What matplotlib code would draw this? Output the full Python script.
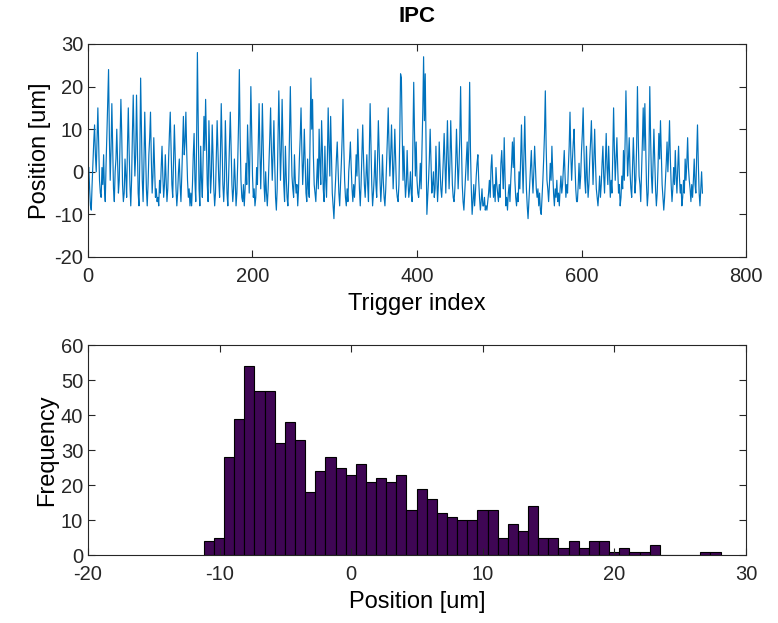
import numpy as np
import matplotlib
matplotlib.use('Agg')
import matplotlib.pyplot as plt

plt.rcParams['font.family'] = ['Liberation Sans', 'DejaVu Sans']
plt.rcParams['axes.unicode_minus'] = False

# position trace (um), one value per trigger
position = [
    1, -4, -8, -9, -3, 2, 7, 11, 4, 0, 8, 15, 6, -2, -5, -6, 1, -3, 4, -4, -7, 2, 9, 17, 24,
    8, -2, 5, 16, 6, -4, -7, 0, 3, 10, 2, -5, -2, 8, 17, 9, -3, -7, -5, 3, -1, -6, 6, 15, 5,
    -3, -8, -2, 9, 18, 7, -1, 4, 18, 6, -5, -8, 3, 22, 10, -2, -7, 2, 14, 5, -4, -8, -3, 4, 8,
    14, 3, -5, -1, 8, 1, -6, -4, -7, -6, -8, -2, -5, 1, 6, -1, -6, -3, 4, -2, -7, -4, 3, 9, 14,
    5, -3, -6, 2, 11, 4, -4, -8, -5, 0, 3, -3, -7, -1, 6, 13, 4, 7, 14, 5, -2, -6, -4, -8, -5,
    -8, -3, 4, 9, -2, -7, 6, 28, 12, -4, -8, 6, -2, -6, 3, 13, 5, 17, 7, -3, -7, 12, 3, -5, -1,
    11, 4, -4, -8, -5, 3, 12, 5, -2, -6, 4, 16, 6, -3, -7, -2, 12, 4, -5, -8, -1, 7, 14, 6, -3,
    -7, -4, 3, -2, -8, -5, 2, 11, 24, 8, -2, -6, -7, -3, -8, -4, 2, -3, 11, 4, -5, 6, 20, 9, -1,
    -6, -4, -8, -6, 1, -3, 7, 16, 5, -4, 4, 16, 6, -3, -7, 0, -5, -8, -4, 2, 8, 15, 5, -2, 4,
    12, 2, -6, -9, -4, 7, 19, 8, -2, 5, 17, 7, -3, -7, 6, -1, -6, -8, -2, 9, 20, 8, -1, -4, -6,
    4, -2, -5, -3, -8, -4, 3, 8, 15, 5, -3, 2, 10, 2, -5, -7, 3, -4, -6, 8, 22, 10, 17, 4, -3,
    -5, -7, -2, 3, -4, 10, 2, -3, 12, 5, -4, -7, 6, -2, -6, 3, 15, 6, -1, 13, 4, -5, -8, -11, -6,
    -2, 3, 7, 1, -5, -8, -3, 2, 8, 17, 6, -2, -6, -8, -4, -7, 0, 3, 7, 1, -4, -7, -3, -6, -2,
    4, -1, 10, 3, -4, -8, -3, 4, 11, 3, -3, -6, -1, 4, -3, -7, 5, 16, 6, -3, -8, -5, -1, 5, -3,
    -6, 3, 12, 5, -2, -7, -3, 4, -2, -6, -8, -4, 2, 8, 15, 6, -1, 4, 11, 3, -4, 2, 10, 3, -4, -6, -7,
    -3, 8, 23, 22, 9, -2, 6, -1, -6, -3, 5, -2, -6, -4, 0, -5, -7, 7, 21, 9, -1, 7, -2,
    -5, -6, -3, 2, -4, 5, 14, 27, 12, 23, 6, -10, -6, -2, 3, 10, 2, -5, -3, 0, -6, -4, 6, -1, -7,
    -3, 7, 1, -4, -6, -2, 3, 9, 2, -5, 4, 12, 3, -4, 2, 12, 4, -3, -6, -7, -4, 2, 10, 3, -4,
    1, 8, 20, 7, -3, -7, -9, -5, -1, 3, 7, -2, 6, 21, 5, -4, -10, -7, -3, -8, -5, -1, 2, 4, -2,
    -6, -9, -7, -4, -8, -8, -6, -9, -8, -9, -7, -5, -2, -6, 1, 4, -2, -6, -3, -7, 1, -3, -5, -7, -3, -6, 2, 5,
    0, -4, 8, -1, -8, -6, -9, -5, -3, -7, -2, 2, 7, 1, 8, -2, -6, -8, -5, -7, 0, -4, 3, 11, 2,
    -5, 4, 13, 3, -4, -8, -11, -7, -3, 1, 5, -1, -5, 0, 6, 1, -4, -6, -4, -8, -5, -9, -10, -6, -2,
    3, 9, 19, 6, -2, -4, -7, -3, 2, -2, 6, 0, -5, -8, -4, -6, -2, -7, -5, -8, -4, -1, -5, -3, 1,
    5, -1, -6, -3, -5, 1, 6, 14, 4, -2, 3, 7, 10, 2, -4, -7, -7, -3, 2, -4, -1, 5, 9, 15, 5,
    -2, -5, 6, -1, -6, -3, 3, 7, 12, 4, -3, 3, 10, 2, -4, -6, -8, -5, -1, -6, -3, 2, 6, -1, -5, 2, 9,
    1, -3, 6, 0, -6, -2, -5, 4, 15, 5, -2, 3, 8, 1, -5, -3, -8, -6, -1, -4, 5, -2, 7, 19, 9,
    -1, 3, 8, 0, -4, -6, 1, 8, 2, -5, -2, 6, 20, 8, -1, -3, -7, 0, 7, 15, 5, 16, 6, -3, -8,
    -5, 4, 20, 8, -1, -5, 2, 10, 3, -4, -8, -5, 1, 9, 3, 12, 4, -3, -6, -9, -6, -2, 2, 7, 0,
    5, 12, 3, -3, -7, -4, 1, -3, 5, -1, -5, 1, 6, -1, -5, -3, -8, -6, -2, -5, 3, -2, 2, 8, 1,
    -2, -4, -7, -3, -6, -2, 3, -3, -5, 4, 11, 2, -5, -8, -4, 0, -5,
]

# histogram of the same positions, counts
hist_counts = [
    4, 5, 28, 39, 54, 47, 47, 32, 38, 33, 18, 24, 28, 25, 23, 26, 21, 22, 21, 23,
    13, 19, 16, 12, 11, 10, 10, 13, 13, 5, 9, 7, 14, 5, 5, 2, 4, 2, 4, 4,
    1, 2, 1, 1, 3, 0, 0, 0, 0, 1, 1,
]
bin_start = -11.2
bin_width = 0.77

LINE_COLOR = '#0072BD'
BAR_COLOR = '#3f0654'
AX_COLOR = '#262626'


def style_axes(ax):
    ax.tick_params(direction='in', length=5, width=0.8, colors=AX_COLOR,
                   labelsize=14.5, top=True, right=True)
    ax.tick_params(axis='x', pad=7)
    for sp in ax.spines.values():
        sp.set_color(AX_COLOR)
        sp.set_linewidth(0.8)


fig = plt.figure(figsize=(7.78, 6.23), dpi=100)

# top panel: position vs trigger
ax1 = fig.add_axes([0.1131, 0.5875, 0.8458, 0.3419])
trig = np.arange(1, len(position) + 1)
ax1.plot(trig, position, color=LINE_COLOR, linewidth=0.85)
ax1.set_xlim(0, 800)
ax1.set_ylim(-20, 30)
ax1.set_xticks(np.arange(0, 801, 200))
ax1.set_yticks(np.arange(-20, 31, 10))
ax1.set_xlabel('Trigger index', fontsize=17, labelpad=5)
ax1.set_ylabel('Position [um]', fontsize=17, labelpad=2)
ax1.set_title('IPC', fontsize=16, fontweight='bold', pad=16)
style_axes(ax1)

# bottom panel: histogram
ax2 = fig.add_axes([0.1131, 0.1091, 0.8458, 0.3371])
edges = bin_start + bin_width * np.arange(len(hist_counts) + 1)
ax2.bar(edges[:-1], hist_counts, width=bin_width, align='edge',
        color=BAR_COLOR, edgecolor='black', linewidth=0.8)
ax2.set_xlim(-20, 30)
ax2.set_ylim(0, 60)
ax2.set_xticks(np.arange(-20, 31, 10))
ax2.set_yticks(np.arange(0, 61, 10))
ax2.set_xlabel('Position [um]', fontsize=17, labelpad=5)
ax2.set_ylabel('Frequency', fontsize=17, labelpad=2)
style_axes(ax2)

fig.savefig('out.png', dpi=100)
